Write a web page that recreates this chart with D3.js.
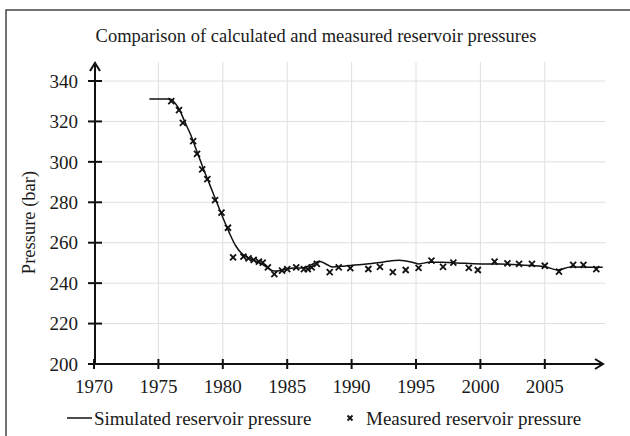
<!DOCTYPE html>
<html>
<head>
<meta charset="utf-8">
<script src="https://cdn.jsdelivr.net/npm/d3@7"></script>
<style>
body { margin: 0; background: #fff; }
text { font-family: "Liberation Serif", "Times New Roman", serif; fill: #1a1a1a; }
</style>
</head>
<body>
<svg id="mainSvg" width="630" height="436"></svg>
<script>
// simulated reservoir pressure (year, bar)
var simYears = [1974.3, 1975.0, 1975.9, 1976.3, 1976.7, 1977.0, 1977.5, 1978.0, 1978.5, 1979.0, 1979.5, 1980.0, 1980.5, 1981.0, 1981.5, 1982.0, 1982.5, 1983.0, 1983.5, 1984.0, 1984.5, 1985.0, 1985.5, 1986.0, 1986.5, 1987.0, 1987.5, 1988.0, 1988.5, 1989.5, 1991.0, 1992.5, 1993.7, 1994.6, 1995.2, 1996.0, 1997.0, 1998.8, 2000.1, 2001.4, 2003.9, 2005.1, 2006.0, 2007.0, 2009.5];
var simPressure = [331.1, 331.1, 331.1, 329, 325, 320.5, 313.5, 305, 296.5, 288.5, 280.5, 272.5, 265, 258.5, 254.5, 252.5, 251, 249.5, 247.5, 246, 246.3, 247, 247.5, 247.5, 248, 249.5, 250.8, 249.5, 248, 248.5, 249.3, 250.5, 251.3, 250.5, 249.5, 250.3, 250.3, 249.8, 249.5, 249.5, 248.7, 248, 246.5, 248, 247.8];

// measured reservoir pressure (year, bar)
var measYears = [1976.0, 1976.6, 1976.9, 1977.7, 1978.0, 1978.4, 1978.8, 1979.4, 1979.9, 1980.4, 1980.8, 1981.6, 1982.0, 1982.4, 1982.8, 1983.1, 1983.5, 1984.0, 1984.6, 1985.0, 1985.7, 1986.3, 1986.6, 1986.9, 1987.3, 1988.3, 1989.0, 1989.9, 1991.3, 1992.2, 1993.2, 1994.2, 1995.2, 1996.2, 1997.1, 1997.9, 1999.1, 1999.8, 2001.1, 2002.1, 2003.0, 2004.0, 2005.0, 2006.1, 2007.2, 2008.0, 2009.0];
var measPressure = [330.1, 325.6, 319.3, 310.3, 303.9, 296.3, 291.5, 281.1, 274.9, 267.4, 252.8, 253.1, 252.3, 251.5, 250.6, 250.1, 247.8, 244.5, 246.2, 246.9, 247.8, 246.9, 246.9, 247.8, 249.5, 245.4, 247.8, 247.4, 247.0, 248.1, 245.4, 246.5, 247.6, 251.1, 248.1, 250.1, 247.6, 246.5, 250.6, 249.8, 249.5, 249.5, 248.6, 245.7, 249.0, 249.0, 246.9];

var xTicks = [1970, 1975, 1980, 1985, 1990, 1995, 2000, 2005];
var yTicks = [200, 220, 240, 260, 280, 300, 320, 340];

var titleText = "Comparison of calculated and measured reservoir pressures";
var yLabel = "Pressure (bar)";
var legendNames = ["Simulated reservoir pressure", "Measured reservoir pressure"];

var mainSvg = d3.select("#mainSvg");
var x = d3.scaleLinear().domain([1970, 2010]).range([94, 609.2]);
var y = d3.scaleLinear().domain([200, 340]).range([364, 81]);
var axisX = x(1970) + 1, axisY = y(200);
var gridRight = x(2009.7), gridTop = 62;

// outer frame
mainSvg.append("rect").attr("x", 6).attr("y", 10).attr("width", 640).attr("height", 440)
	.attr("fill", "none").attr("stroke", "#444").attr("stroke-width", 1.5);

// grid
mainSvg.selectAll(".hgrid").data(yTicks.slice(1)).enter().append("line")
	.attr("x1", axisX).attr("x2", gridRight)
	.attr("y1", function(d) { return y(d); }).attr("y2", function(d) { return y(d); })
	.attr("stroke", "#e2dede").attr("stroke-width", 1);
mainSvg.selectAll(".vgrid").data(xTicks.slice(1)).enter().append("line")
	.attr("x1", function(d) { return x(d); }).attr("x2", function(d) { return x(d); })
	.attr("y1", gridTop).attr("y2", axisY)
	.attr("stroke", "#e2dede").attr("stroke-width", 1);

// axes with arrow heads
mainSvg.append("line").attr("x1", axisX).attr("x2", 602).attr("y1", axisY).attr("y2", axisY)
	.attr("stroke", "#111").attr("stroke-width", 2);
mainSvg.append("path").attr("d", "M595," + (axisY - 5) + "L603," + axisY + "L595," + (axisY + 5))
	.attr("fill", "none").attr("stroke", "#111").attr("stroke-width", 2);
mainSvg.append("line").attr("x1", axisX).attr("x2", axisX).attr("y1", axisY).attr("y2", 64)
	.attr("stroke", "#111").attr("stroke-width", 2);
mainSvg.append("path").attr("d", "M" + (axisX - 5) + ",71L" + axisX + ",63L" + (axisX + 5) + ",71")
	.attr("fill", "none").attr("stroke", "#111").attr("stroke-width", 2);

// ticks and labels
mainSvg.selectAll(".ytick").data(yTicks).enter().append("line")
	.attr("x1", axisX - 7).attr("x2", axisX + 7)
	.attr("y1", function(d) { return y(d); }).attr("y2", function(d) { return y(d); })
	.attr("stroke", "#111").attr("stroke-width", 2);
mainSvg.selectAll(".ylab").data(yTicks).enter().append("text")
	.attr("x", 78).attr("y", function(d) { return y(d); }).attr("dy", "0.35em")
	.attr("text-anchor", "end").attr("font-size", "19px").text(function(d) { return d; });
mainSvg.selectAll(".xtick").data(xTicks).enter().append("line")
	.attr("x1", function(d) { return x(d); }).attr("x2", function(d) { return x(d); })
	.attr("y1", axisY - 5).attr("y2", axisY + 5)
	.attr("stroke", "#111").attr("stroke-width", 2);
mainSvg.selectAll(".xlab").data(xTicks).enter().append("text")
	.attr("x", function(d) { return x(d); }).attr("y", 393)
	.attr("text-anchor", "middle").attr("font-size", "19px").text(function(d) { return d; });

mainSvg.append("text").attr("x", 316).attr("y", 42).attr("text-anchor", "middle")
	.attr("font-size", "18.5px").text(titleText);
mainSvg.append("text").attr("transform", "translate(35," + y(270) + ") rotate(-90)")
	.attr("text-anchor", "middle").attr("font-size", "18.5px").text(yLabel);

// simulated line
var simData = simYears.map(function(d, i) { return {year: d, p: simPressure[i]}; });
var line = d3.line().x(function(d) { return x(d.year); }).y(function(d) { return y(d.p); }).curve(d3.curveMonotoneX);
mainSvg.append("path").datum(simData).attr("d", line)
	.attr("fill", "none").attr("stroke", "#111").attr("stroke-width", 1.5);

// measured crosses
var measData = measYears.map(function(d, i) { return {year: d, p: measPressure[i]}; });
var cs = 3;
mainSvg.selectAll(".meas").data(measData).enter().append("path")
	.attr("d", function(d) {
		var cx = x(d.year), cy = y(d.p);
		return "M" + (cx - cs) + "," + (cy - cs) + "L" + (cx + cs) + "," + (cy + cs) +
			"M" + (cx - cs) + "," + (cy + cs) + "L" + (cx + cs) + "," + (cy - cs);
	})
	.attr("stroke", "#111").attr("stroke-width", 1.8).attr("fill", "none");

// legend
mainSvg.append("line").attr("x1", 67).attr("x2", 92).attr("y1", 418).attr("y2", 418)
	.attr("stroke", "#111").attr("stroke-width", 1.5);
mainSvg.append("text").attr("x", 94).attr("y", 418).attr("dy", "0.35em")
	.attr("font-size", "19px").text(legendNames[0]);
mainSvg.append("path").attr("d", "M347.5,415.5L352.5,420.5M347.5,420.5L352.5,415.5")
	.attr("stroke", "#111").attr("stroke-width", 1.8);
mainSvg.append("text").attr("x", 366).attr("y", 418).attr("dy", "0.35em")
	.attr("font-size", "19px").text(legendNames[1]);
</script>
</body>
</html>
